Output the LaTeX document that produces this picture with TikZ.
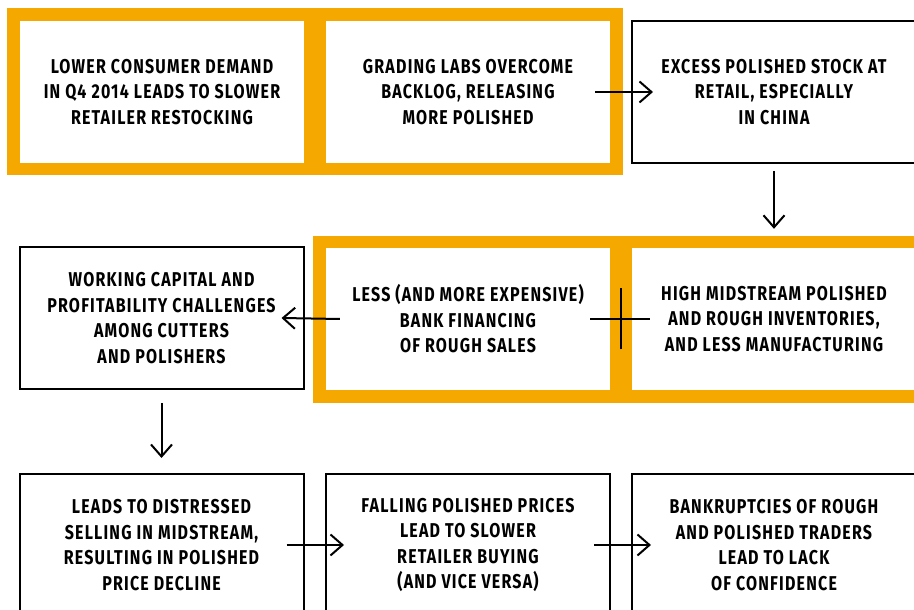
\documentclass[tikz,border=0pt]{standalone}
\usepackage{fontspec}
\newfontfamily\boxfont{Fira Sans}[FakeStretch=0.8,LetterSpace=6]
\usetikzlibrary{arrows.meta,decorations.markings}
\definecolor{gold}{HTML}{F5A800}
\tikzset{>={Straight Barb[length=12pt,width=21pt]}}
\tikzset{
  stage/.style = {
    minimum width=284pt, minimum height=142pt, inner sep=0pt,
    align=center, fill=white,
    font=\boxfont\bfseries\fontsize{20}{25.5}\selectfont
  },
  outlined/.style = {stage, draw, line width=2pt},
  link/.style = {->, line width=2pt}
}

\begin{document}
\begin{tikzpicture}[x=1pt,y=1pt]
  \useasboundingbox (0,0) rectangle (914,610);
  \clip (0,0) rectangle (914,610);
  % orange frames
  \fill[gold] (7,435) rectangle (623,602);
  \fill[gold] (313,207) rectangle (930,374);
  % top row
  \node[stage] (demand) at (162,518) {LOWER CONSUMER DEMAND\\IN Q4 2014 LEADS TO SLOWER\\RETAILER RESTOCKING};
  \node[stage] (labs) at (468,518) {GRADING LABS OVERCOME\\BACKLOG, RELEASING\\MORE POLISHED};
  \node[outlined] (excess) at (774,518) {EXCESS POLISHED STOCK AT\\RETAIL, ESPECIALLY\\IN CHINA};
  % middle row
  \node[outlined] (capital) at (161.5,292) {WORKING CAPITAL AND\\PROFITABILITY CHALLENGES\\AMONG CUTTERS\\AND POLISHERS};
  \node[stage] (bank) at (468,291) {LESS (AND MORE EXPENSIVE)\\BANK FINANCING\\OF ROUGH SALES};
  \node[stage] (midstream) at (774,291) {HIGH MIDSTREAM POLISHED\\AND ROUGH INVENTORIES,\\AND LESS MANUFACTURING};
  % bottom row
  \node[outlined] (distress) at (161.5,65) {LEADS TO DISTRESSED\\SELLING IN MIDSTREAM,\\RESULTING IN POLISHED\\PRICE DECLINE};
  \node[outlined] (falling) at (468,65) {FALLING POLISHED PRICES\\LEAD TO SLOWER\\RETAILER BUYING\\(AND VICE VERSA)};
  \node[outlined] (bankrupt) at (774,65) {BANKRUPTCIES OF ROUGH\\AND POLISHED TRADERS\\LEAD TO LACK\\OF CONFIDENCE};
  % connectors
  \draw[link] ([xshift=-15pt]labs.east) -- ([xshift=22pt]excess.west);
  \draw[link] ([yshift=-7pt]excess.south) -- ([yshift=19pt]midstream.north);
  \draw[line width=2pt,
    decoration={markings, mark=at position 0.5 with {\arrow{Bar[width=61pt]}}},
    postaction={decorate}
  ] ([xshift=18pt]midstream.west) -- ([xshift=-20pt]bank.east);
  \draw[link] ([xshift=14pt]bank.west) -- ([xshift=-23pt]capital.east);
  \draw[link] ([yshift=-13pt]capital.south) -- ([yshift=15pt]distress.north);
  \draw[link] ([xshift=-18pt]distress.east) -- ([xshift=19pt]falling.west);
  \draw[link] ([xshift=-17pt]falling.east) -- ([xshift=20pt]bankrupt.west);
\end{tikzpicture}
\end{document}
